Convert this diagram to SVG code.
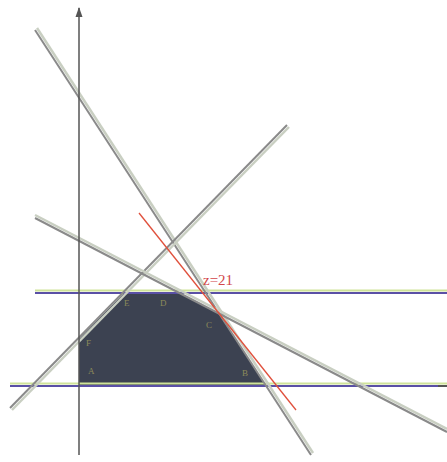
<svg xmlns="http://www.w3.org/2000/svg" width="447" height="462" viewBox="0 0 447 462">
<defs>
<marker id="arr" markerWidth="10" markerHeight="8" refX="9" refY="4" orient="auto" markerUnits="userSpaceOnUse">
<path d="M0,0.5 L10,4 L0,7.5 Z" fill="#555"/>
</marker>
</defs>
<style>
.g1{stroke:#8a8a8a;stroke-width:2;fill:none}
.g2{stroke:#c9cfc2;stroke-width:2.5;fill:none}
.hb{stroke:#5a50a6;stroke-width:2;fill:none}
.hg{stroke:#cfe39a;stroke-width:2;fill:none}
.lab{font-family:"Liberation Serif",serif;font-size:9px;fill:#8d8a5a}
</style>
<rect width="447" height="462" fill="#ffffff"/>
<g id="region">
<polygon points="79,386 79,339 124,293 179,293 219,314 266,386" fill="#3c4251"/>
</g>
<g id="connectors">
<line class="hg" x1="35" y1="290.5" x2="447" y2="290.5"/>
<line class="hb" x1="35" y1="293" x2="447" y2="293"/>
<line class="hg" x1="10" y1="383.5" x2="447" y2="383.5"/>
<line class="hb" x1="10" y1="386" x2="440" y2="386"/>
<line class="g2" x1="37" y1="28" x2="313" y2="453"/>
<line class="g1" x1="35" y1="30" x2="311" y2="455"/>
<line class="g2" x1="12" y1="410" x2="289" y2="127"/>
<line class="g1" x1="10" y1="408" x2="287" y2="125"/>
<line class="g2" x1="35" y1="215" x2="447" y2="429"/>
<line class="g1" x1="35" y1="218" x2="447" y2="432"/>
<line x1="139" y1="213" x2="296" y2="410" stroke="#e0503c" stroke-width="1.3"/>
<line x1="79" y1="455" x2="79" y2="8" stroke="#555" stroke-width="1.5" marker-end="url(#arr)"/>
<line x1="438" y1="386" x2="447" y2="386" stroke="#555" stroke-width="2"/>
</g>
<g id="labels">
<text x="203" y="285" font-family="Liberation Serif, serif" font-size="15" fill="#d2454a">z=21</text>
<text class="lab" x="86" y="346">F</text>
<text class="lab" x="88" y="374">A</text>
<text class="lab" x="124" y="306">E</text>
<text class="lab" x="160" y="306">D</text>
<text class="lab" x="206" y="328">C</text>
<text class="lab" x="242" y="376">B</text>
</g>
</svg>
